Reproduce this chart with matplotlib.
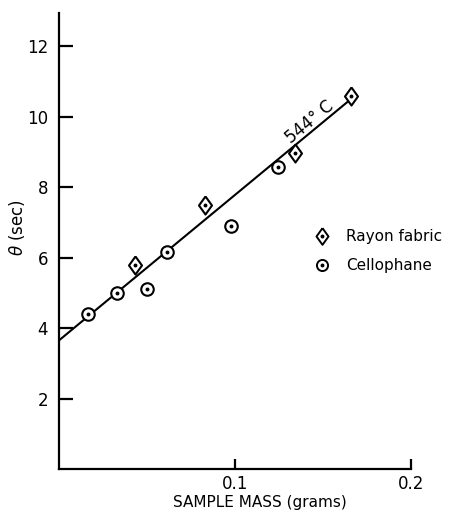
import matplotlib.pyplot as plt

# sample mass (grams) vs ignition time theta (sec)
rayon_mass = [0.0432, 0.083, 0.134, 0.166]
rayon_theta = [5.79, 7.49, 8.96, 10.58]
cello_mass = [0.0165, 0.033, 0.050, 0.0614, 0.0977, 0.1244]
cello_theta = [4.40, 5.00, 5.10, 6.16, 6.89, 8.57]

# fitted line at 544 C
fit_mass = [0.0, 0.164]
fit_theta = [3.65, 10.42]

x_ticks = [0.1, 0.2]
x_ticklabels = ['0.1', '0.2']
y_ticks = [2, 4, 6, 8, 10, 12]

plt.rcParams['font.family'] = 'DejaVu Sans'

# diamond a bit narrower than it is tall
diamond = [(0, 1), (0.72, 0), (0, -1), (-0.72, 0), (0, 1)]

fig = plt.figure(figsize=(4.51, 5.12), dpi=100)
ax = fig.add_axes([59 / 451, 1 - 469 / 512, 352 / 451, 456 / 512])
ax.set_xlim(0, 0.2)
ax.set_ylim(0, 12.94)

for side in ['top', 'right']:
    ax.spines[side].set_visible(False)
for side in ['left', 'bottom']:
    ax.spines[side].set_linewidth(1.6)

ax.plot(fit_mass, fit_theta, color='black', lw=1.5, zorder=2)

ax.plot(rayon_mass, rayon_theta, ls='none', marker=diamond, ms=13, mfc='white',
        mec='black', mew=1.5, zorder=3)
ax.plot(cello_mass, cello_theta, ls='none', marker='o', ms=9, mfc='white',
        mec='black', mew=1.5, zorder=3)
ax.plot(rayon_mass + cello_mass, rayon_theta + cello_theta, ls='none',
        marker='o', ms=1.8, color='black', zorder=4)

ax.text(0.1426, 9.84, '544° C', rotation=39.6, ha='center', va='center',
        fontsize=12, rotation_mode='anchor')

ax.set_xticks(x_ticks)
ax.set_xticklabels(x_ticklabels)
ax.set_yticks(y_ticks)
ax.tick_params(axis='y', direction='in', length=10, width=1.6, labelsize=12, pad=8)
ax.tick_params(axis='x', direction='in', length=7, width=1.6, labelsize=12, pad=4)

# legend drawn by hand to the right of the line
leg_x = 0.1495
ax.plot([leg_x], [6.6], ls='none', marker=diamond, ms=12, mfc='white', mec='black', mew=1.4)
ax.plot([leg_x], [5.78], ls='none', marker='o', ms=8, mfc='white', mec='black', mew=1.4)
ax.plot([leg_x, leg_x], [6.6, 5.78], ls='none', marker='o', ms=1.8, color='black')
ax.text(0.163, 6.6, 'Rayon fabric', va='center', ha='left', fontsize=11)
ax.text(0.163, 5.78, 'Cellophane', va='center', ha='left', fontsize=11)

fig.text(17 / 451, 1 - 227 / 512, r'$\theta$ (sec)', rotation=90, ha='center',
         va='center', fontsize=12)
fig.text(260 / 451, 1 - 502 / 512, 'SAMPLE MASS (grams)', ha='center',
         va='center', fontsize=11)

fig.savefig('out.png', dpi=100)
